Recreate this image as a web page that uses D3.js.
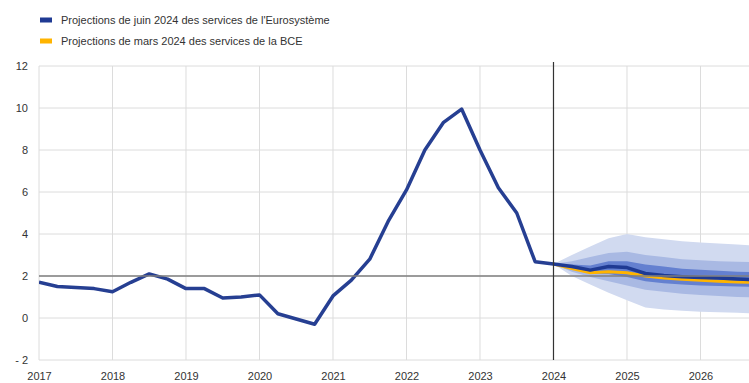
<!DOCTYPE html>
<html><head><meta charset="utf-8">
<script src="https://cdn.jsdelivr.net/npm/d3@7"></script>
<style>body{margin:0;background:#fff;}svg{display:block;font-family:"Liberation Sans",Arial,sans-serif;}</style>
</head><body>
<svg id="c" width="749" height="383"></svg>
<script>
// Historical quarterly data (annual % change), from 2017 Q1
const histStart = 2017;
const histValues = [1.7,1.5,1.45,1.4,1.25,1.7,2.1,1.85,1.4,1.4,0.95,1.0,1.1,0.2,-0.05,-0.3,1.05,1.8,2.8,4.6,6.1,8.0,9.3,9.95,8.0,6.2,5.0,2.68,2.57];
// Projections, quarterly from 2024 Q1
const projStart = 2024;
const juneCentral = [2.57,2.45,2.28,2.45,2.4,2.12,2.02,1.97,1.93,1.9,1.86,1.82];
const marchCentral = [2.57,2.35,2.15,2.2,2.15,2.0,1.9,1.85,1.8,1.75,1.72,1.7];
const outerLo = [2.57,2.0,1.6,1.2,0.85,0.5,0.4,0.35,0.3,0.27,0.25,0.22];
const outerHi = [2.57,3.0,3.4,3.8,4.0,3.85,3.75,3.65,3.6,3.55,3.5,3.45];
const midLo   = [2.57,2.2,1.95,1.75,1.55,1.35,1.25,1.15,1.1,1.05,1.0,0.98];
const midHi   = [2.57,2.7,2.9,3.1,3.15,3.0,2.9,2.8,2.75,2.7,2.68,2.65];
const innLo   = [2.57,2.35,2.12,2.1,1.95,1.75,1.65,1.6,1.55,1.52,1.5,1.48];
const innHi   = [2.57,2.55,2.5,2.7,2.7,2.55,2.45,2.35,2.3,2.25,2.2,2.18];
const yTicks = [-2,0,2,4,6,8,10,12];
const xTicks = [2017,2018,2019,2020,2021,2022,2023,2024,2025,2026];
const legendLabels = ["Projections de juin 2024 des services de l'Eurosystème","Projections de mars 2024 des services de la BCE"];
const target = 2;

const svg = d3.select("#c");
const x = d3.scaleLinear().domain([2017, 2026.66]).range([39, 749]);
const y = d3.scaleLinear().domain([-2, 12]).range([360, 66]);

svg.append("defs").append("clipPath").attr("id","clip").append("rect")
  .attr("x",39).attr("y",60).attr("width",710).attr("height",305);

// grid
svg.append("g").selectAll("line").data(yTicks).join("line")
  .attr("x1",39).attr("x2",749).attr("y1",d=>y(d)).attr("y2",d=>y(d))
  .attr("stroke","#dcdcdc").attr("stroke-width",1);
svg.append("g").selectAll("line").data(xTicks).join("line")
  .attr("x1",d=>x(d)).attr("x2",d=>x(d)).attr("y1",66).attr("y2",360)
  .attr("stroke","#dcdcdc").attr("stroke-width",1);

// axes labels
const yAxis = d3.axisLeft(y).tickValues(yTicks).tickSize(0).tickPadding(0).tickFormat(d=>d<0?"- "+Math.abs(d):d);
const gy = svg.append("g").attr("transform","translate(28,0)").call(yAxis);
gy.select(".domain").remove();
gy.selectAll("text").attr("fill","#333").style("font-size","11px").attr("dy","0.35em");

const xAxis = d3.axisBottom(x).tickValues(xTicks).tickSize(0).tickPadding(0).tickFormat(d3.format("d"));
const gx = svg.append("g").attr("transform","translate(0,376)").call(xAxis);
gx.select(".domain").remove();
gx.selectAll("text").attr("fill","#333").style("font-size","11px").attr("dy","0.35em");

// fan bands
const plot = svg.append("g").attr("clip-path","url(#clip)");
const px = i => x(projStart + i*0.25);
function band(lo, hi, color){
  const area = d3.area().x((d,i)=>px(i)).y0((d,i)=>y(lo[i])).y1((d,i)=>y(hi[i]));
  plot.append("path").datum(lo).attr("d",area).attr("fill",color);
}
band(outerLo, outerHi, "#d1daf0");
band(midLo, midHi, "#a9b9e3");
band(innLo, innHi, "#6480d0");

// target line
svg.append("line").attr("x1",39).attr("x2",749).attr("y1",y(target)).attr("y2",y(target))
  .attr("stroke","#7f7f7f").attr("stroke-width",1.5);
// vertical line at 2024
svg.append("line").attr("x1",x(2024)).attr("x2",x(2024)).attr("y1",62).attr("y2",360)
  .attr("stroke","#333").attr("stroke-width",1.2);

// lines
const line = (start) => d3.line().x((d,i)=>x(start+i*0.25)).y(d=>y(d));
plot.append("path").datum(marchCentral).attr("d",line(projStart)).attr("fill","none")
  .attr("stroke","#ffb400").attr("stroke-width",3);
plot.append("path").datum(juneCentral).attr("d",line(projStart)).attr("fill","none")
  .attr("stroke","#1f3a93").attr("stroke-width",3.5).attr("stroke-linejoin","round");
plot.append("path").datum(histValues).attr("d",line(histStart)).attr("fill","none")
  .attr("stroke","#263f92").attr("stroke-width",3.5).attr("stroke-linejoin","round");

// legend
const legColors = ["#1f3a93","#ffb400"];
const lg = svg.append("g");
legendLabels.forEach((t,i)=>{
  const yy = 20 + i*21;
  lg.append("rect").attr("x",40).attr("y",yy-2.5).attr("width",12).attr("height",5).attr("fill",legColors[i]);
  lg.append("text").attr("x",61).attr("y",yy).attr("dy","0.35em").attr("fill","#333").style("font-size","11px").text(t);
});
</script>
</body></html>
